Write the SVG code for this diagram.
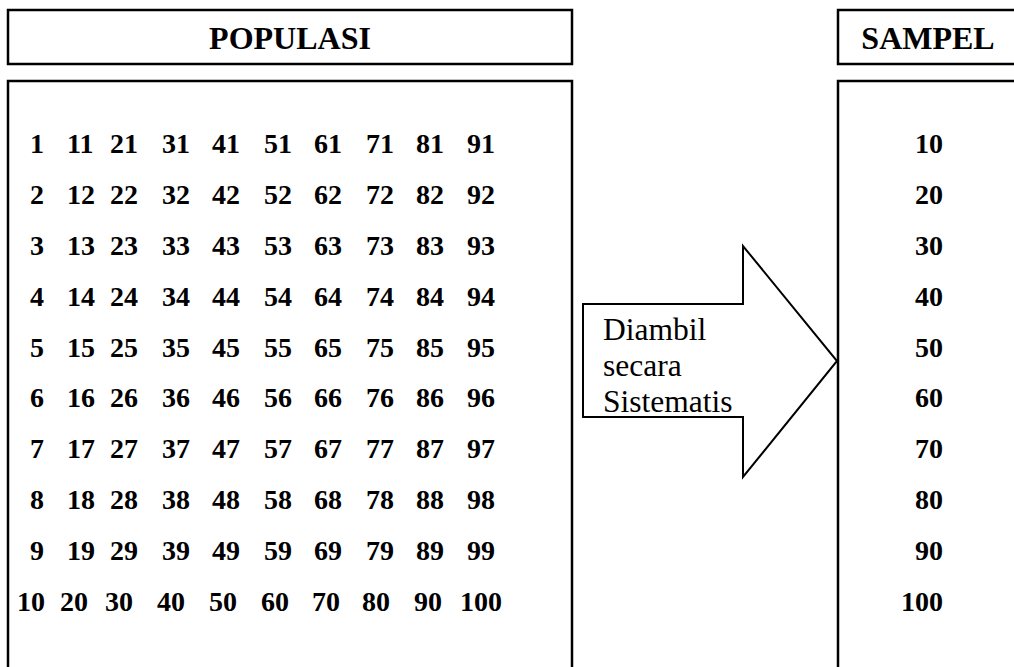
<svg xmlns="http://www.w3.org/2000/svg" width="1014" height="667" viewBox="0 0 1014 667">
  <style>
    .box { fill: #ffffff; stroke: #000000; stroke-width: 2.5; }
    .head { font-family: "Liberation Serif", "Times New Roman", serif; font-weight: bold; font-size: 32px; fill: #000; text-anchor: middle; }
    .num { font-family: "Liberation Serif", "Times New Roman", serif; font-weight: bold; font-size: 28px; fill: #000; }
    .samp { font-family: "Liberation Serif", "Times New Roman", serif; font-weight: bold; font-size: 28px; fill: #000; text-anchor: end; }
    .lbl { font-family: "Liberation Serif", "Times New Roman", serif; font-size: 31.5px; fill: #000; }
    .arrow { fill: #ffffff; stroke: #000000; stroke-width: 2; stroke-linejoin: miter; }
  </style>
  <rect width="1014" height="667" fill="#ffffff"/>

  <!-- population header -->
  <g id="populasi-header">
    <rect class="box" x="8" y="10" width="564" height="54"/>
    <text class="head" x="290" y="49">POPULASI</text>
  </g>

  <!-- population list -->
  <g id="populasi">
    <rect class="box" x="8" y="81" width="564" height="610"/>
    <g class="num">
      <text y="153"><tspan x="30">1</tspan><tspan x="67">11</tspan><tspan x="110">21</tspan><tspan x="162">31</tspan><tspan x="212">41</tspan><tspan x="264">51</tspan><tspan x="314">61</tspan><tspan x="366">71</tspan><tspan x="416">81</tspan><tspan x="467">91</tspan></text>
      <text y="204"><tspan x="30">2</tspan><tspan x="67">12</tspan><tspan x="110">22</tspan><tspan x="162">32</tspan><tspan x="212">42</tspan><tspan x="264">52</tspan><tspan x="314">62</tspan><tspan x="366">72</tspan><tspan x="416">82</tspan><tspan x="467">92</tspan></text>
      <text y="255"><tspan x="30">3</tspan><tspan x="67">13</tspan><tspan x="110">23</tspan><tspan x="162">33</tspan><tspan x="212">43</tspan><tspan x="264">53</tspan><tspan x="314">63</tspan><tspan x="366">73</tspan><tspan x="416">83</tspan><tspan x="467">93</tspan></text>
      <text y="306"><tspan x="30">4</tspan><tspan x="67">14</tspan><tspan x="110">24</tspan><tspan x="162">34</tspan><tspan x="212">44</tspan><tspan x="264">54</tspan><tspan x="314">64</tspan><tspan x="366">74</tspan><tspan x="416">84</tspan><tspan x="467">94</tspan></text>
      <text y="357"><tspan x="30">5</tspan><tspan x="67">15</tspan><tspan x="110">25</tspan><tspan x="162">35</tspan><tspan x="212">45</tspan><tspan x="264">55</tspan><tspan x="314">65</tspan><tspan x="366">75</tspan><tspan x="416">85</tspan><tspan x="467">95</tspan></text>
      <text y="407"><tspan x="30">6</tspan><tspan x="67">16</tspan><tspan x="110">26</tspan><tspan x="162">36</tspan><tspan x="212">46</tspan><tspan x="264">56</tspan><tspan x="314">66</tspan><tspan x="366">76</tspan><tspan x="416">86</tspan><tspan x="467">96</tspan></text>
      <text y="458"><tspan x="30">7</tspan><tspan x="67">17</tspan><tspan x="110">27</tspan><tspan x="162">37</tspan><tspan x="212">47</tspan><tspan x="264">57</tspan><tspan x="314">67</tspan><tspan x="366">77</tspan><tspan x="416">87</tspan><tspan x="467">97</tspan></text>
      <text y="509"><tspan x="30">8</tspan><tspan x="67">18</tspan><tspan x="110">28</tspan><tspan x="162">38</tspan><tspan x="212">48</tspan><tspan x="264">58</tspan><tspan x="314">68</tspan><tspan x="366">78</tspan><tspan x="416">88</tspan><tspan x="467">98</tspan></text>
      <text y="560"><tspan x="30">9</tspan><tspan x="67">19</tspan><tspan x="110">29</tspan><tspan x="162">39</tspan><tspan x="212">49</tspan><tspan x="264">59</tspan><tspan x="314">69</tspan><tspan x="366">79</tspan><tspan x="416">89</tspan><tspan x="467">99</tspan></text>
      <text y="611"><tspan x="17">10</tspan><tspan x="60">20</tspan><tspan x="105">30</tspan><tspan x="157">40</tspan><tspan x="209">50</tspan><tspan x="261">60</tspan><tspan x="312">70</tspan><tspan x="362">80</tspan><tspan x="414">90</tspan><tspan x="460">100</tspan></text>
    </g>
  </g>

  <!-- sample header -->
  <g id="sampel-header">
    <rect class="box" x="838" y="10" width="200" height="54"/>
    <text class="head" x="928" y="49">SAMPEL</text>
  </g>

  <!-- sample list -->
  <g id="sampel">
    <rect class="box" x="838" y="81" width="200" height="610"/>
    <g class="samp">
      <text x="943" y="153">10</text>
      <text x="943" y="204">20</text>
      <text x="943" y="255">30</text>
      <text x="943" y="306">40</text>
      <text x="943" y="357">50</text>
      <text x="943" y="407">60</text>
      <text x="943" y="458">70</text>
      <text x="943" y="509">80</text>
      <text x="943" y="560">90</text>
      <text x="943" y="611">100</text>
    </g>
  </g>

  <!-- block arrow from population to sample -->
  <g id="connectors">
    <g id="arrow-diambil">
      <path class="arrow" d="M583,304 L743,304 L743,246 L837,361 L743,477 L743,417 L583,417 Z"/>
      <text class="lbl" x="603" y="340">Diambil</text>
      <text class="lbl" x="603" y="376">secara</text>
      <text class="lbl" x="603" y="412">Sistematis</text>
    </g>
  </g>
</svg>
